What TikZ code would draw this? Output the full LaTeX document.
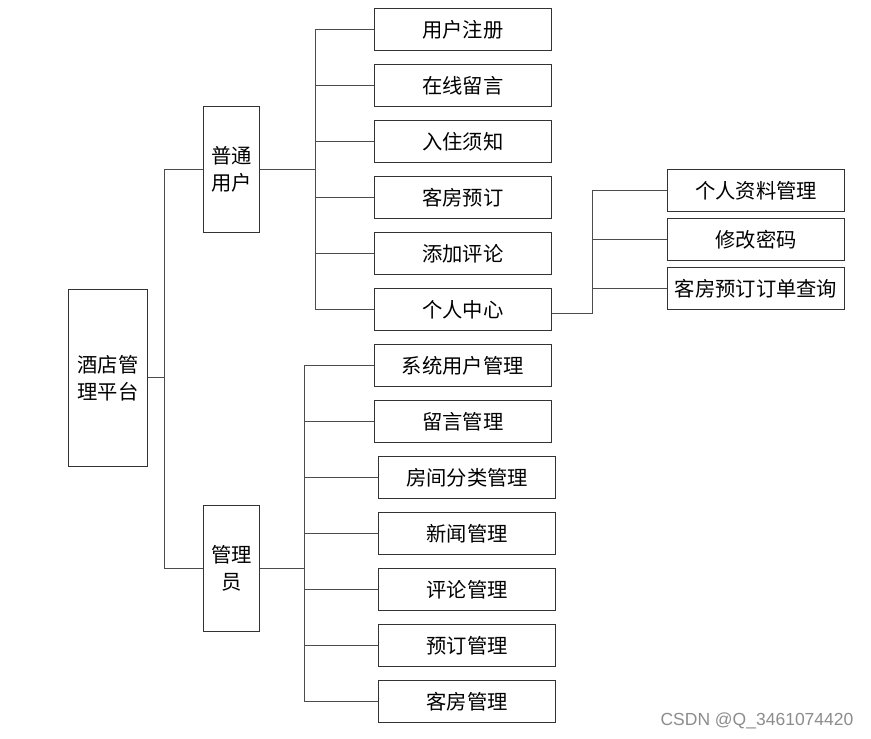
\documentclass[tikz,border=0pt]{standalone}
\usepackage{fontspec}
\setmainfont{Noto Sans CJK SC}
\newfontfamily\wmfont{Liberation Sans}
\begin{document}
\begin{tikzpicture}[x=1pt,y=-1pt,
  box/.style={draw=black!80,line width=0.9pt,inner sep=0pt,align=center,
    font=\fontsize{20.3}{27}\selectfont,minimum width=177pt,minimum height=42pt},
  tall/.style={box,minimum width=56pt,minimum height=126pt},
  conn/.style={draw=black!70,line width=0.9pt}]
\useasboundingbox (0,0) rectangle (871,739);
% root
\node[box,minimum width=79pt,minimum height=176.5pt] (root) at (108,377.75) {酒店管\\理平台};
\node[tall] (u) at (231.3,169.7) {普通\\用户};
\node[tall,minimum height=126.7pt] (a) at (231.3,568.3) {管理\\员};
% user children
\node[box] (u1) at (462.8,29.8) {用户注册};
\node[box] (u2) at (462.8,85.8) {在线留言};
\node[box] (u3) at (462.8,141.8) {入住须知};
\node[box] (u4) at (462.8,197.8) {客房预订};
\node[box] (u5) at (462.8,253.7) {添加评论};
\node[box] (u6) at (462.8,309.5) {个人中心};
% personal center children
\node[box,minimum width=177.4pt] (p1) at (756,190.5) {个人资料管理};
\node[box,minimum width=177.4pt] (p2) at (756,239.3) {修改密码};
\node[box,minimum width=177.4pt] (p3) at (756,288.3) {客房预订订单查询};
% admin children
\node[box] (a1) at (462.8,365.7) {系统用户管理};
\node[box] (a2) at (462.8,421.7) {留言管理};
\node[box] (a3) at (467.2,477.7) {房间分类管理};
\node[box] (a4) at (467.2,533.7) {新闻管理};
\node[box] (a5) at (467.2,589.7) {评论管理};
\node[box] (a6) at (467.2,645.5) {预订管理};
\node[box] (a7) at (467.2,701.2) {客房管理};
% bus coordinates
\coordinate (t0) at (164,0);
\coordinate (b1) at (315,0);
\coordinate (b2) at (304,0);
\coordinate (b3) at (592.7,0);
% root branch
\draw[conn] (root.east) -- (root.east -| t0);
\draw[conn] (u.west) -| (t0 |- root.east);
\draw[conn] (a.west) -| (t0 |- root.east);
% user branch
\draw[conn] (u.east) -- (u.east -| b1);
\foreach \n in {u1,u2,u3,u4,u5,u6}
  \draw[conn] (\n.west) -| (b1 |- u.east);
% personal branch
\coordinate (pcout) at ([yshift=-3.5pt]u6.east);
\draw[conn] (pcout) -- (pcout -| b3);
\foreach \n in {p1,p2,p3}
  \draw[conn] (\n.west) -| (b3 |- pcout);
% admin branch
\draw[conn] (a.east) -- (a.east -| b2);
\foreach \n in {a1,a2,a3,a4,a5,a6,a7}
  \draw[conn] (\n.west) -| (b2 |- a.east);
% watermark
\node[text=black!45,font=\wmfont\fontsize{17.5}{20}\selectfont,inner sep=0pt] (wm) at (757,720.5) {CSDN @Q\_3461074420};
\end{tikzpicture}
\end{document}
